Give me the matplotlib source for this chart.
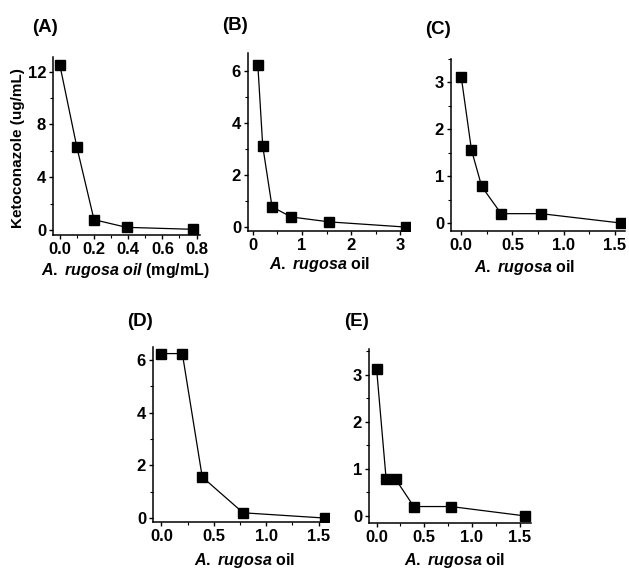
import numpy as np
import matplotlib
matplotlib.use("Agg")
import matplotlib.pyplot as plt
from matplotlib.ticker import MultipleLocator

plt.rcParams['font.family'] = ['Liberation Sans', 'DejaVu Sans']
plt.rcParams['font.weight'] = 'bold'
plt.rcParams['mathtext.fontset'] = 'custom'
plt.rcParams['mathtext.it'] = 'Liberation Sans:bold:italic'
plt.rcParams['mathtext.rm'] = 'Liberation Sans:bold'

# data (oil concentration vs ketoconazole MIC)
x_a = [0.0, 0.1, 0.2, 0.39, 0.78]
y_a = [12.5, 6.25, 0.78, 0.2, 0.05]
x_b = [0.1, 0.2, 0.39, 0.78, 1.56, 3.125]
y_b = [6.25, 3.12, 0.78, 0.39, 0.2, 0.0]
x_c = [0.0, 0.1, 0.2, 0.39, 0.78, 1.56]
y_c = [3.12, 1.56, 0.78, 0.2, 0.2, 0.0]
x_d = [0.0, 0.2, 0.39, 0.78, 1.56]
y_d = [6.25, 6.25, 1.56, 0.2, 0.0]
x_e = [0.0, 0.1, 0.2, 0.39, 0.78, 1.56]
y_e = [3.12, 0.78, 0.78, 0.2, 0.2, 0.0]

labels = ["(A)", "(B)", "(C)", "(D)", "(E)"]

W, H = 629, 574
fig = plt.figure(figsize=(W / 100, H / 100), dpi=100)

def px_axes(l, t, r, b):
    return fig.add_axes([l / W, 1 - b / H, (r - l) / W, (b - t) / H])

# (pixel box, xlim, ylim, x major/minor, y major/minor)
panels = [
    ((53, 57, 200, 235), (-0.04, 0.82), (-0.38, 13.1), (0.2, 0.1), (4, 2), x_a, y_a),
    ((248, 53, 410, 231), (-0.1, 3.2), (-0.15, 6.7), (1, 0.5), (2, 1), x_b, y_b),
    ((451, 59, 625, 231), (-0.1, 1.6), (-0.17, 3.5), (0.5, 0.25), (1, 0.5), x_c, y_c),
    ((153, 347, 329, 522), (-0.08, 1.6), (-0.15, 6.5), (0.5, 0.25), (2, 1), x_d, y_d),
    ((369, 349, 531, 523), (-0.08, 1.62), (-0.15, 3.55), (0.5, 0.25), (1, 0.5), x_e, y_e),
]
xfmt = ["%.1f", "%d", "%.1f", "%.1f", "%.1f"]

axes = []
for i, (box, xl, yl, xt, yt, xs, ys) in enumerate(panels):
    ax = px_axes(*box)
    ax.plot(xs, ys, color='black', lw=0.9, marker='s', ms=7.5, mfc='black', mec='black')
    ax.set_xlim(xl)
    ax.set_ylim(yl)
    ax.xaxis.set_major_locator(MultipleLocator(xt[0]))
    ax.xaxis.set_minor_locator(MultipleLocator(xt[1]))
    ax.yaxis.set_major_locator(MultipleLocator(yt[0]))
    ax.yaxis.set_minor_locator(MultipleLocator(yt[1]))
    ax.xaxis.set_major_formatter(plt.FormatStrFormatter(xfmt[i]))
    for s in ['top', 'right']:
        ax.spines[s].set_visible(False)
    for s in ['left', 'bottom']:
        ax.spines[s].set_linewidth(1.1)
    ax.tick_params(which='major', direction='out', length=3, width=1, labelsize=12, pad=2)
    ax.tick_params(which='minor', direction='out', length=2, width=0.8)
    for lab in ax.get_xticklabels() + ax.get_yticklabels():
        lab.set_fontweight('bold')
    axes.append(ax)

# panel letters
fig.text(32 / W, 1 - 27 / H, labels[0], fontsize=13.5, fontweight='bold', va='center')
fig.text(222 / W, 1 - 25 / H, labels[1], fontsize=13.5, fontweight='bold', va='center')
fig.text(425 / W, 1 - 30 / H, labels[2], fontsize=13.5, fontweight='bold', va='center')
fig.text(127 / W, 1 - 322 / H, labels[3], fontsize=13.5, fontweight='bold', va='center')
fig.text(344 / W, 1 - 322 / H, labels[4], fontsize=13.5, fontweight='bold', va='center')

# axis titles
fig.text(18 / W, 1 - 148 / H, "Ketoconazole (ug/mL)", rotation=90, fontsize=11,
         fontweight='bold', ha='center', va='center')
fig.text(125 / W, 1 - 270 / H, r"$\mathit{A.}$ $\mathit{rugosa}$ $\mathit{oil}$ (mg/mL)",
         fontsize=11.5, fontweight='bold', ha='center', va='center')
oil = r"$\mathit{A.}$ $\mathit{rugosa}$ oil"
fig.text(320 / W, 1 - 264 / H, oil, fontsize=11.5, fontweight='bold', ha='center', va='center')
fig.text(525 / W, 1 - 268 / H, oil, fontsize=11.5, fontweight='bold', ha='center', va='center')
fig.text(245 / W, 1 - 560 / H, oil, fontsize=11.5, fontweight='bold', ha='center', va='center')
fig.text(455 / W, 1 - 560 / H, oil, fontsize=11.5, fontweight='bold', ha='center', va='center')

fig.savefig("out.png", dpi=100)
